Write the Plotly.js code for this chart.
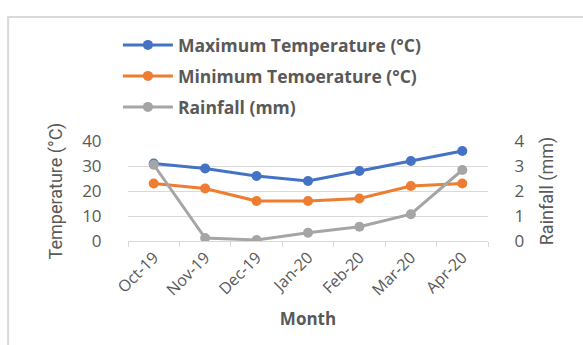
<!DOCTYPE html>
<html><head><meta charset="utf-8">
<script src="https://cdn.plot.ly/plotly-3.0.1.min.js"></script>
<style>html,body{margin:0;padding:0;background:#fff;}#c{width:583px;height:345px;}</style>
</head><body><div id="c"></div>
<script>
const months = ["Oct-19","Nov-19","Dec-19","Jan-20","Feb-20","Mar-20","Apr-20"];
const maxTemp = [31, 29, 26, 24, 28, 32, 36];
const minTemp = [23, 21, 16, 16, 17, 22, 23];
const rainfall = [3.05, 0.12, 0.04, 0.33, 0.57, 1.07, 2.84];

const txt = "#595959";
const mk = (name, y, color, yaxis, leg) => ({
  x: months, y: y, name: name, type: "scatter", mode: "lines+markers", yaxis: yaxis, legend: leg,
  line: {color: color, width: 3}, marker: {color: color, size: 10}
});
const data = [
  mk("Maximum Temperature (°C)", maxTemp, "#4472C4", "y", "legend"),
  mk("Minimum Temoerature (°C)", minTemp, "#ED7D31", "y", "legend2"),
  mk("Rainfall (mm)", rainfall, "#A5A5A5", "y2", "legend3")
];
const legBase = (ypx) => ({x: -0.028, xanchor: "left", y: (241 - ypx) / 100, yanchor: "middle", yref: "paper",
  font: {size: 17.5, color: txt, family: "Open Sans, sans-serif", weight: "bold"},
  bgcolor: "rgba(0,0,0,0)", itemwidth: 50});
const layout = {
  width: 583, height: 345,
  margin: {l: 128, r: 95, t: 141, b: 104, pad: 0},
  paper_bgcolor: "rgba(0,0,0,0)", plot_bgcolor: "rgba(0,0,0,0)",
  font: {family: "Open Sans, sans-serif", color: txt, size: 14},
  showlegend: true,
  legend: legBase(45), legend2: legBase(76), legend3: legBase(107),
  xaxis: {type: "category", tickangle: -45, showgrid: false, showline: true, linecolor: "#d9d9d9", linewidth: 1,
    ticks: "outside", tickson: "boundaries", ticklen: 5, tickcolor: "#d9d9d9",
    tickfont: {size: 16, color: txt},
    title: {text: "Month", font: {size: 17, color: txt, weight: "bold"}, standoff: 14},
    range: [-0.5, 6.5]},
  yaxis: {range: [0, 40], dtick: 10, showgrid: true, gridcolor: "#d9d9d9", zeroline: false,
    ticks: "outside", ticklen: 22, tickcolor: "rgba(0,0,0,0)", tickfont: {size: 17, color: txt},
    title: {text: "Temperature (°C)", font: {size: 18, color: txt, family: "Liberation Sans Narrow, Roboto, sans-serif"}, standoff: 14}},
  yaxis2: {range: [0, 4], dtick: 1, overlaying: "y", side: "right", showgrid: false, zeroline: false,
    ticks: "outside", ticklen: 22, tickcolor: "rgba(0,0,0,0)", tickfont: {size: 17, color: txt},
    title: {text: "Rainfall (mm)", font: {size: 18, color: txt, family: "Liberation Sans Narrow, Roboto, sans-serif"}, standoff: 16}},
  shapes: [{type: "rect", xref: "paper", yref: "paper", x0: -0.333, x1: 1.4, y0: -1.3, y1: 2.24,
    line: {color: "#d9d9d9", width: 2}, fillcolor: "rgba(0,0,0,0)", layer: "below"}]
};
Plotly.newPlot("c", data, layout, {displayModeBar: false, staticPlot: true});
</script></body></html>
